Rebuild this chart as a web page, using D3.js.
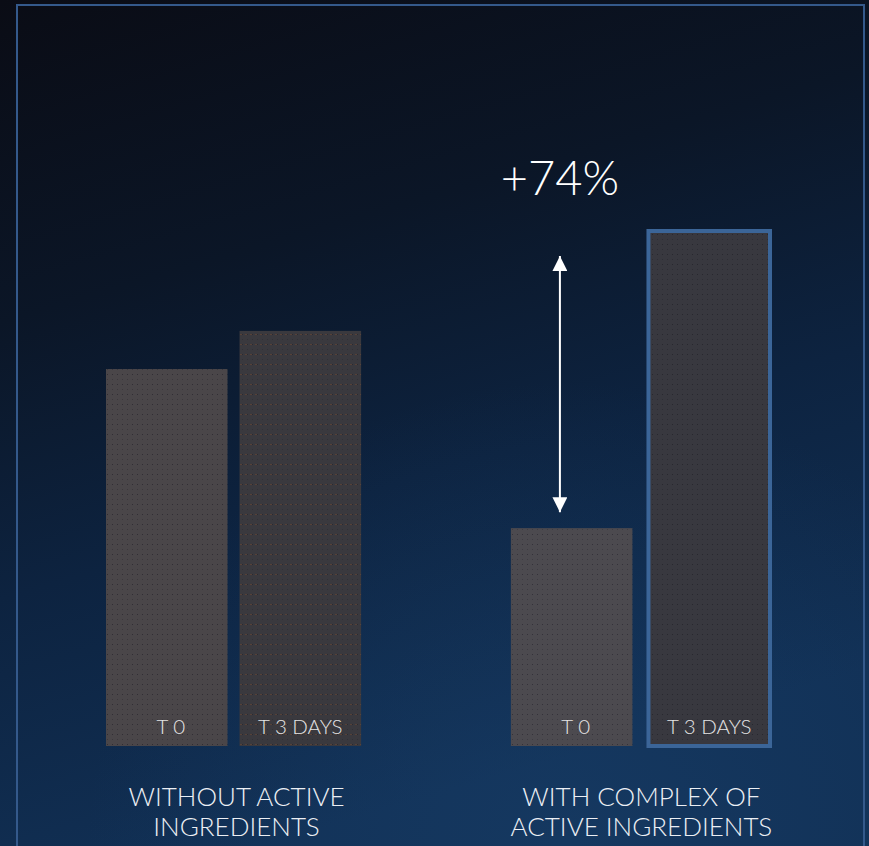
<!DOCTYPE html>
<html>
<head>
<meta charset="utf-8">
<script src="https://cdn.jsdelivr.net/npm/d3@7"></script>
<style>
  html, body { margin: 0; padding: 0; background: #0a0d16; overflow: hidden; }
  svg { display: block; }
</style>
</head>
<body>
<svg id="chart" width="869" height="846"></svg>
<script>
// ---- data ----
const groups = ["WITHOUT ACTIVE INGREDIENTS", "WITH COMPLEX OF ACTIVE INGREDIENTS"];
const groupLines = [["WITHOUT ACTIVE", "INGREDIENTS"], ["WITH COMPLEX OF", "ACTIVE INGREDIENTS"]];
const timepoints = ["T 0", "T 3 DAYS"];
const withoutValues = [73.2, 80.6];
const withValues = [42.3, 100];
const annotation = "+74%";

const data = [
  { group: groups[0], tp: timepoints[0], value: withoutValues[0], gi: 0, ti: 0 },
  { group: groups[0], tp: timepoints[1], value: withoutValues[1], gi: 0, ti: 1 },
  { group: groups[1], tp: timepoints[0], value: withValues[0], gi: 1, ti: 0 },
  { group: groups[1], tp: timepoints[1], value: withValues[1], gi: 1, ti: 1 }
];

const W = 869, H = 846;
const svg = d3.select("#chart");
const defs = svg.append("defs");

// background gradient
const bg = defs.append("linearGradient").attr("id", "bg").attr("x1", 0).attr("y1", 0).attr("x2", 0.3).attr("y2", 1);
bg.append("stop").attr("offset", "0%").attr("stop-color", "#0a0c15");
bg.append("stop").attr("offset", "35%").attr("stop-color", "#0b1627");
bg.append("stop").attr("offset", "65%").attr("stop-color", "#0d2340");
bg.append("stop").attr("offset", "100%").attr("stop-color", "#113055");
const glow = defs.append("radialGradient").attr("id", "glow").attr("cx", 0.65).attr("cy", 1).attr("r", 0.55);
glow.append("stop").attr("offset", "0%").attr("stop-color", "#1a426e").attr("stop-opacity", 0.45);
glow.append("stop").attr("offset", "100%").attr("stop-color", "#1a426e").attr("stop-opacity", 0);

svg.append("rect").attr("width", W).attr("height", H).attr("fill", "url(#bg)");
svg.append("rect").attr("width", W).attr("height", H).attr("fill", "url(#glow)");

// bar patterns
const barStyles = [
  { base: "#4a4649", dot: "#302d34", line: null },
  { base: "#3a393e", dot: "#2a2930", line: "#5e4537" },
  { base: "#4c4a4f", dot: "#333139", line: null },
  { base: "#38383f", dot: "#27272e", line: null }
];
barStyles.forEach((s, i) => {
  const p = defs.append("pattern").attr("id", "pat" + i).attr("patternUnits", "userSpaceOnUse")
    .attr("width", 5).attr("height", 10);
  p.append("rect").attr("width", 5).attr("height", 10).attr("fill", s.base);
  if (s.line) p.append("rect").attr("x", 0).attr("y", 4).attr("width", 3).attr("height", 1).attr("fill", s.line).attr("opacity", 0.8);
  p.append("rect").attr("x", 2).attr("y", 4).attr("width", 1).attr("height", 1).attr("fill", s.dot);
  p.append("rect").attr("x", 2).attr("y", 9).attr("width", 1).attr("height", 1).attr("fill", s.dot).attr("opacity", 0.6);
});

// frame
svg.append("rect").attr("x", 17).attr("y", 5).attr("width", 847).attr("height", H + 10)
  .attr("fill", "none").attr("stroke", "#34598b").attr("stroke-width", 2);

// scales
const x0 = d3.scaleBand().domain(groups).range([106, 766]).paddingInner(0.37).paddingOuter(0);
const x1 = d3.scaleBand().domain(timepoints).range([0, x0.bandwidth()]).paddingInner(0.09).paddingOuter(0);
const y = d3.scaleLinear().domain([0, 100]).range([746, 231]);
const hl = d => d.gi === 1 && d.ti === 1;

// bars
const bars = svg.append("g");
bars.selectAll("rect").data(data).join("rect")
  .attr("x", d => x0(d.group) + x1(d.tp) + (hl(d) ? 4 : 0))
  .attr("y", d => y(d.value))
  .attr("width", x1.bandwidth())
  .attr("height", d => y(0) - y(d.value))
  .attr("fill", (d, i) => `url(#pat${i})`)
  .attr("stroke", d => hl(d) ? "#3b6598" : "none")
  .attr("stroke-width", 4);

// bar labels
bars.selectAll("text").data(data).join("text")
  .attr("x", d => x0(d.group) + x1(d.tp) + x1.bandwidth() / 2 + (hl(d) ? 4 : 0) + (d.ti === 0 ? 4 : 0))
  .attr("y", 734)
  .attr("text-anchor", "middle")
  .attr("fill", "#e4e4e4")
  .attr("font-family", "Lato, 'Open Sans', sans-serif")
  .attr("font-weight", 300)
  .attr("font-size", 20.5)
  .text(d => d.tp);

// group labels
const gl = svg.append("g");
groups.forEach((g, gi) => {
  const cx = x0(g) + x0.bandwidth() / 2 + 3;
  groupLines[gi].forEach((line, li) => {
    gl.append("text")
      .attr("x", cx)
      .attr("y", 806 + li * 30)
      .attr("text-anchor", "middle")
      .attr("fill", "#eceff4")
      .attr("font-family", "Lato, 'Open Sans', sans-serif")
      .attr("font-weight", 300)
      .attr("font-size", 26)
      .text(line);
  });
});

// annotation arrow
const d3day = data[3], d0 = data[2];
const ax = x0(d0.group) + 49;
const yTop = y(d3day.value) + 25, yBot = y(d0.value) - 16;
defs.append("marker").attr("id", "ah").attr("viewBox", "0 0 10 10").attr("refX", 10).attr("refY", 5)
  .attr("markerWidth", 7.5).attr("markerHeight", 7.5).attr("markerUnits", "strokeWidth").attr("orient", "auto-start-reverse")
  .append("path").attr("d", "M0,0 L10,5 L0,10 Z").attr("fill", "#ffffff");
svg.append("line").attr("x1", ax).attr("x2", ax).attr("y1", yTop).attr("y2", yBot)
  .attr("stroke", "#ffffff").attr("stroke-width", 2)
  .attr("marker-start", "url(#ah)").attr("marker-end", "url(#ah)");

svg.append("text")
  .attr("x", ax).attr("y", 195)
  .attr("text-anchor", "middle")
  .attr("fill", "#ffffff")
  .attr("font-family", "Lato, 'Open Sans', sans-serif")
  .attr("font-weight", 300)
  .attr("font-size", 47)
  .text(annotation);
</script>
</body>
</html>
